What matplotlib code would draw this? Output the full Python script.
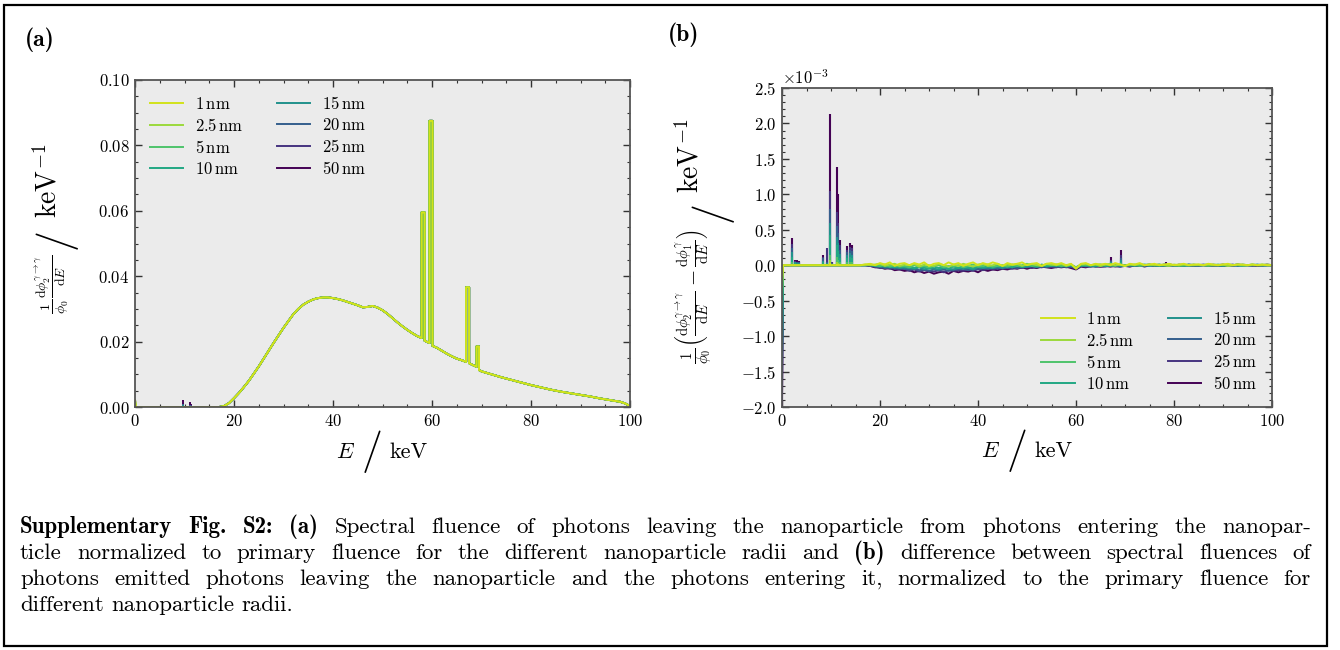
import numpy as np
import matplotlib
matplotlib.use('Agg')
import matplotlib.pyplot as plt
from matplotlib.patches import Rectangle
from matplotlib.ticker import MultipleLocator

plt.rcParams['font.family'] = 'serif'
plt.rcParams['font.serif'] = ['cmr10']
plt.rcParams['mathtext.fontset'] = 'cm'
plt.rcParams['axes.formatter.use_mathtext'] = True
plt.rcParams['axes.unicode_minus'] = True

# radii, legend labels and colour positions on viridis
radii = ['1', '2.5', '5', '10', '15', '20', '25', '50']
cmap_pos = [0.93, 0.85, 0.72, 0.60, 0.50, 0.30, 0.15, 0.0]

# (a) spectrum of photons (phi / phi0 per keV), above 16 keV, same for all radii
E_a = [16, 17, 18, 19, 20, 21, 22, 23, 24, 25, 26, 27, 28, 29, 30, 31, 32, 33, 34, 35,
       36, 37, 38, 39, 40, 41, 42, 43, 44, 45, 46, 47, 48, 49, 50, 51, 52, 53, 54, 55,
       56, 57, 57.9, 57.9, 58.5, 58.5, 59, 59.5, 59.5, 60.1, 60.1, 61, 62, 63, 64, 65,
       66, 66.9, 66.9, 67.5, 67.5, 68, 69.0, 69.0, 69.5, 69.5, 70, 72, 74, 76, 78, 80,
       82, 84, 86, 88, 90, 92, 94, 96, 98, 99, 100]
spec_a = [0.0000, 0.0000, 0.0003, 0.0012, 0.0027, 0.0043, 0.0061, 0.0080, 0.0102, 0.0124,
          0.0148, 0.0172, 0.0196, 0.0219, 0.0242, 0.0263, 0.0284, 0.0300, 0.0313, 0.0322,
          0.0329, 0.0333, 0.0335, 0.0335, 0.0333, 0.0330, 0.0326, 0.0321, 0.0316, 0.0311,
          0.0305, 0.0306, 0.0309, 0.0304, 0.0296, 0.0285, 0.0272, 0.0259, 0.0247, 0.0236,
          0.0226, 0.0217, 0.0211, 0.0595, 0.0595, 0.0203, 0.0199, 0.0196, 0.0875, 0.0875,
          0.0187, 0.0181, 0.0172, 0.0163, 0.0155, 0.0148, 0.0143, 0.0138, 0.0366, 0.0366,
          0.0134, 0.0130, 0.0123, 0.0185, 0.0185, 0.0113, 0.0109, 0.0100, 0.0091, 0.0083,
          0.0075, 0.0067, 0.0060, 0.0053, 0.0047, 0.0042, 0.0037, 0.0032, 0.0026, 0.0021,
          0.0016, 0.0011, 0.0003]
spec_a_first = 0.0023   # first energy bin of the entering spectrum

# (b) difference, in units of 1e-3 / keV
first_bin = [-0.2, -0.35, -0.55, -1.2, -1.35, -1.6, -1.9, -2.1]

line_E = [2.0, 2.6, 3.0, 3.5, 8.3, 9.1, 9.7, 10.3, 11.2, 11.4, 11.9, 13.3, 13.8, 14.3,
          67.1, 69.2, 78.4]
line_h = [
    [0.01, 0.0, 0.0, 0.0, 0.0, 0.0, 0.03, 0.0, 0.02, 0.01, 0.01, 0.01, 0.01, 0.01, 0.0, 0.0, 0.0],
    [0.02, 0.0, 0.0, 0.0, 0.01, 0.0, 0.07, 0.0, 0.05, 0.03, 0.02, 0.02, 0.02, 0.02, 0.0, 0.01, 0.0],
    [0.05, 0.01, 0.01, 0.01, 0.02, 0.01, 0.15, 0.01, 0.12, 0.08, 0.04, 0.04, 0.05, 0.04, 0.01, 0.02, 0.0],
    [0.12, 0.03, 0.02, 0.02, 0.04, 0.02, 0.42, 0.01, 0.28, 0.20, 0.10, 0.10, 0.12, 0.10, 0.03, 0.05, 0.01],
    [0.18, 0.04, 0.03, 0.03, 0.06, 0.03, 0.60, 0.02, 0.40, 0.32, 0.16, 0.14, 0.17, 0.15, 0.04, 0.07, 0.01],
    [0.25, 0.05, 0.04, 0.04, 0.10, 0.05, 0.80, 0.03, 0.55, 0.45, 0.22, 0.18, 0.22, 0.20, 0.06, 0.10, 0.02],
    [0.30, 0.06, 0.05, 0.05, 0.12, 0.24, 1.05, 0.04, 0.75, 0.60, 0.28, 0.22, 0.26, 0.24, 0.08, 0.14, 0.03],
    [0.38, 0.08, 0.07, 0.06, 0.15, 0.05, 2.13, 0.05, 1.38, 1.00, 0.35, 0.27, 0.31, 0.29, 0.12, 0.22, 0.04],
]

E_b = list(range(16, 101))
diff_b = [
    # 1 nm
    [0.00, 0.01, 0.02, 0.00, 0.03, 0.01, 0.04, -0.01, 0.02, 0.03,
     0.00, 0.03, 0.01, 0.04, -0.01, 0.02, 0.03, 0.00, 0.04, 0.01,
     0.03, -0.01, 0.02, 0.04, 0.00, 0.03, 0.01, 0.04, 0.02, -0.01,
     0.03, 0.01, 0.02, 0.04, 0.00, 0.02, 0.03, -0.01, 0.02, 0.03,
     0.01, 0.03, 0.00, 0.02, -0.05, 0.02, 0.03, 0.00, 0.02, 0.01,
     0.02, 0.00, 0.03, 0.01, -0.01, 0.02, 0.01, 0.03, 0.00, 0.01,
     0.02, 0.00, 0.01, 0.02, 0.00, 0.01, 0.02, 0.00, 0.01, 0.01,
     0.00, 0.02, 0.01, 0.00, 0.01, 0.02, 0.00, 0.01, 0.01, 0.00,
     0.01, 0.00, 0.01, 0.00, 0.00],
    # 2.5 nm
    [0.00, 0.01, 0.00, 0.01, 0.02, -0.01, 0.01, 0.02, -0.01, 0.01,
     0.00, 0.02, -0.02, 0.01, 0.00, -0.01, 0.02, 0.00, -0.02, 0.01,
     -0.01, 0.02, 0.00, -0.02, 0.01, 0.02, -0.01, 0.00, 0.02, -0.01,
     0.01, 0.00, 0.02, -0.01, 0.01, 0.02, 0.00, -0.01, 0.02, 0.01,
     0.00, 0.02, -0.01, 0.01, -0.04, 0.01, 0.02, 0.00, 0.01, -0.01,
     0.01, 0.02, 0.00, 0.01, -0.01, 0.01, 0.00, 0.02, 0.00, 0.01,
     0.00, 0.01, 0.00, -0.01, 0.01, 0.00, 0.01, 0.00, 0.00, 0.01,
     0.00, 0.01, 0.00, 0.00, 0.01, -0.01, 0.00, 0.01, 0.00, 0.00,
     0.01, 0.00, 0.00, 0.01, 0.00],
    # 5 nm
    [0.00, 0.00, 0.01, 0.00, -0.01, 0.01, -0.02, 0.00, -0.02, -0.01,
     -0.03, 0.00, -0.02, -0.01, -0.03, -0.01, 0.00, -0.03, -0.01, -0.02,
     0.00, -0.03, -0.01, 0.01, -0.02, -0.01, 0.01, -0.02, -0.01, 0.00,
     -0.02, 0.01, -0.01, 0.00, 0.02, -0.01, 0.00, -0.01, 0.01, 0.00,
     0.01, -0.01, 0.00, 0.01, -0.03, 0.01, 0.00, 0.00, 0.01, -0.01,
     0.01, 0.00, -0.01, 0.01, 0.00, 0.00, 0.01, -0.01, 0.00, 0.01,
     0.00, 0.00, 0.01, 0.00, 0.00, -0.01, 0.00, 0.01, 0.00, 0.00,
     0.00, -0.01, 0.00, 0.01, 0.00, 0.00, 0.00, 0.01, 0.00, 0.00,
     0.00, 0.00, 0.01, 0.00, 0.00],
    # 10 nm
    [0.00, 0.00, 0.01, -0.01, 0.00, -0.02, -0.01, -0.03, -0.01, -0.03,
     -0.02, -0.04, -0.02, -0.03, -0.05, -0.02, -0.04, -0.03, -0.05, -0.02,
     -0.04, -0.02, -0.03, -0.04, -0.01, -0.03, -0.02, -0.03, 0.00, -0.02,
     -0.01, -0.03, 0.00, -0.02, 0.00, -0.01, -0.02, 0.01, -0.01, 0.00,
     -0.01, 0.01, -0.02, 0.00, -0.03, 0.00, 0.01, -0.01, 0.00, 0.01,
     -0.01, 0.00, 0.01, 0.00, -0.01, 0.01, 0.00, 0.00, 0.01, 0.00,
     0.00, -0.01, 0.00, 0.01, 0.00, 0.00, -0.01, 0.00, 0.01, 0.00,
     0.00, 0.01, 0.00, 0.00, 0.00, 0.01, 0.00, 0.00, -0.01, 0.00,
     0.01, 0.00, 0.00, 0.00, 0.00],
    # 15 nm
    [0.00, 0.00, 0.00, -0.01, -0.02, -0.01, -0.03, -0.02, -0.04, -0.03,
     -0.04, -0.05, -0.03, -0.06, -0.04, -0.05, -0.06, -0.04, -0.05, -0.06,
     -0.04, -0.05, -0.04, -0.06, -0.03, -0.04, -0.03, -0.04, -0.02, -0.04,
     -0.02, -0.03, -0.01, -0.03, -0.02, -0.01, -0.02, 0.00, -0.02, -0.01,
     0.00, -0.02, -0.01, 0.00, -0.04, -0.01, -0.01, 0.00, -0.02, 0.00,
     0.00, -0.01, 0.01, -0.01, 0.00, 0.00, -0.01, 0.01, 0.00, -0.01,
     0.00, 0.01, -0.01, 0.00, 0.00, 0.00, 0.01, -0.01, 0.00, 0.00,
     0.00, 0.00, 0.01, 0.00, -0.01, 0.00, 0.00, 0.00, 0.01, 0.00,
     0.00, 0.01, 0.00, 0.00, 0.00],
    # 20 nm
    [0.00, 0.00, 0.00, -0.02, -0.02, -0.04, -0.03, -0.05, -0.04, -0.05,
     -0.06, -0.05, -0.07, -0.06, -0.08, -0.06, -0.07, -0.06, -0.08, -0.06,
     -0.06, -0.05, -0.07, -0.05, -0.06, -0.04, -0.05, -0.03, -0.05, -0.03,
     -0.04, -0.02, -0.04, -0.02, -0.03, -0.01, -0.03, -0.02, -0.02, -0.01,
     -0.02, -0.02, 0.00, -0.02, -0.04, -0.01, 0.00, -0.02, -0.01, 0.00,
     -0.01, -0.01, 0.00, -0.02, 0.00, -0.01, 0.00, -0.01, 0.00, 0.01,
     -0.01, 0.00, 0.00, 0.00, -0.01, 0.01, 0.00, 0.00, -0.01, 0.00,
     0.01, 0.00, 0.00, -0.01, 0.00, 0.00, 0.01, -0.01, 0.00, 0.00,
     0.00, 0.00, -0.01, 0.00, 0.00],
    # 25 nm
    [0.00, 0.00, -0.01, -0.02, -0.04, -0.03, -0.05, -0.04, -0.06, -0.05,
     -0.08, -0.06, -0.09, -0.07, -0.08, -0.09, -0.07, -0.10, -0.07, -0.08,
     -0.07, -0.08, -0.06, -0.08, -0.05, -0.07, -0.05, -0.06, -0.04, -0.05,
     -0.04, -0.05, -0.03, -0.04, -0.02, -0.04, -0.02, -0.03, -0.01, -0.03,
     -0.03, -0.01, -0.03, -0.02, -0.05, -0.01, -0.02, -0.02, 0.00, -0.02,
     -0.02, 0.00, -0.02, -0.01, 0.00, -0.01, -0.01, 0.00, -0.02, 0.00,
     0.00, -0.01, 0.01, -0.01, 0.00, 0.00, -0.01, 0.01, 0.00, -0.01,
     0.00, 0.00, -0.01, 0.00, 0.01, 0.00, -0.01, 0.00, 0.00, 0.00,
     -0.01, 0.00, 0.00, 0.01, 0.00],
    # 50 nm
    [0.00, 0.00, -0.01, -0.03, -0.03, -0.05, -0.04, -0.07, -0.06, -0.08,
     -0.07, -0.10, -0.08, -0.11, -0.09, -0.12, -0.10, -0.09, -0.12, -0.08,
     -0.10, -0.08, -0.09, -0.07, -0.10, -0.06, -0.08, -0.06, -0.07, -0.05,
     -0.06, -0.04, -0.05, -0.03, -0.05, -0.03, -0.04, -0.02, -0.03, -0.04,
     -0.02, -0.03, -0.02, -0.04, -0.06, -0.02, -0.03, -0.01, -0.02, -0.02,
     -0.01, -0.02, -0.01, -0.02, -0.01, -0.02, 0.00, -0.01, -0.01, 0.00,
     -0.01, 0.00, -0.01, 0.01, 0.00, -0.01, 0.00, 0.00, -0.01, 0.00,
     0.00, -0.01, 0.00, 0.00, -0.01, 0.00, 0.00, 0.01, 0.00, 0.00,
     0.00, -0.01, 0.00, 0.00, 0.00],
]

caption_lines = [
    'Supplementary Fig. S2: (a) Spectral fluence of photons leaving the nanoparticle from photons entering the nanopar-',
    'ticle normalized to primary fluence for the different nanoparticle radii and (b) difference between spectral fluences of',
    'photons emitted photons leaving the nanoparticle and the photons entering it, normalized to the primary fluence for',
    'different nanoparticle radii.',
]
bold_words = {'Supplementary', 'Fig.', 'S2:', '(a)', '(b)'}

W, H = 1340, 650
fig = plt.figure(figsize=(W / 100, H / 100), dpi=100)
ax_a = fig.add_axes([135 / W, 1 - 407 / H, 495 / W, 327 / H])
ax_b = fig.add_axes([782 / W, 1 - 407 / H, 490 / W, 319 / H])

colors = [plt.cm.viridis(p) for p in cmap_pos]
labels = [r + r'$\,$nm' for r in radii]

handles = [None] * 8
for i in reversed(range(8)):
    c = colors[i]
    # panel a
    xa = [0.0, 0.2] + E_a
    ya = [spec_a_first + first_bin[i] * 1e-3, 0.0] + spec_a
    handles[i], = ax_a.plot(xa, ya, color=c, lw=1.4, label=labels[i])
    low = [k for k, e in enumerate(line_E) if e < 16]
    ax_a.vlines([line_E[k] for k in low], 0, [line_h[i][k] * 1e-3 for k in low],
                color=c, lw=1.4)
    # panel b
    xb = [0.0, 0.2] + E_b
    yb = [first_bin[i] * 1e-3, 0.0] + [v * 1e-3 for v in diff_b[i]]
    ax_b.plot(xb, yb, color=c, lw=1.4)
    ax_b.vlines(line_E, 0, [h * 1e-3 for h in line_h[i]], color=c, lw=1.5)

for ax in (ax_a, ax_b):
    ax.set_facecolor('#ebebeb')
    ax.set_xlim(0, 100)
    ax.xaxis.set_major_locator(MultipleLocator(20))
    ax.xaxis.set_minor_locator(MultipleLocator(5))
    ax.tick_params(which='both', direction='in', top=True, right=True,
                   labelsize=12, color='#333333', pad=4)
    ax.tick_params(which='major', length=5, width=1)
    ax.tick_params(which='minor', length=2.5, width=0.8)
    for s in ax.spines.values():
        s.set_color('#555555')
        s.set_linewidth(1.3)
    # x label "E / keV" with a tall slash
    ax.text(0.444, -0.138, '$E$', transform=ax.transAxes, ha='right', va='center', fontsize=16)
    ax.text(0.479, -0.138, '/', transform=ax.transAxes, ha='center', va='center', fontsize=30)
    ax.text(0.515, -0.138, 'keV', transform=ax.transAxes, ha='left', va='center', fontsize=16)

ax_a.set_ylim(0, 0.10)
ax_a.yaxis.set_major_locator(MultipleLocator(0.02))
ax_a.yaxis.set_minor_locator(MultipleLocator(0.005))

ax_b.set_ylim(-2.0e-3, 2.5e-3)
ax_b.yaxis.set_major_locator(MultipleLocator(0.5e-3))
ax_b.yaxis.set_minor_locator(MultipleLocator(0.1e-3))
ax_b.ticklabel_format(axis='y', style='sci', scilimits=(-3, -3), useMathText=True)
ax_b.yaxis.get_offset_text().set_fontsize(12)

# y labels: quantity, tall slash, unit (rotated pieces)
ylab = {
    ax_a: (r'$\frac{1}{\phi_0}\frac{\mathrm{d}\phi_2^{\gamma\to\gamma}}{\mathrm{d}E}$', 14,
           (-0.166, 0.465), (-0.160, 0.514), (-0.176, 0.578)),
    ax_b: (r'$\frac{1}{\phi_0}\left(\frac{\mathrm{d}\phi_2^{\gamma\to\gamma}}{\mathrm{d}E}'
           r'-\frac{\mathrm{d}\phi_1^{\gamma}}{\mathrm{d}E}\right)$', 15,
           (-0.178, 0.555), (-0.145, 0.614), (-0.188, 0.671)),
}
for ax, (q, qsize, pq, ps, pu) in ylab.items():
    ax.text(*pq, q, transform=ax.transAxes, rotation=90, ha='center', va='top', fontsize=qsize)
    ax.text(*ps, '/', transform=ax.transAxes, rotation=90, ha='center', va='center',
            fontsize=30)
    ax.text(*pu, r'$\mathrm{keV}^{-1}$', transform=ax.transAxes, rotation=90, ha='center',
            va='bottom', fontsize=20)

leg_kw = dict(ncol=2, frameon=False, fontsize=12, handlelength=2.0, labelspacing=0.3,
              columnspacing=2.0, handletextpad=0.7)
ax_a.legend(handles=handles, loc='upper left', bbox_to_anchor=(0.0, 1.0), **leg_kw)
ax_b.legend(handles=handles, loc='lower right', bbox_to_anchor=(1.0, 0.0), **leg_kw)

fig.text(25 / W, 1 - 40 / H, '(a)', family='cmb10', fontsize=17, va='center')
fig.text(668 / W, 1 - 35 / H, '(b)', family='cmb10', fontsize=17, va='center')

# page frame
fig.patches.append(Rectangle((4 / W, 4 / H), 1323 / W, 641 / H, transform=fig.transFigure,
                             fill=False, ec='black', lw=1.6))

# justified caption, word by word
renderer = fig.canvas.get_renderer()
cap_left, cap_right = 20, 1311
cap_base = [533, 559, 585, 611]
cap_size = 16.5
for k, line in enumerate(caption_lines):
    words = line.split(' ')
    items = [fig.text(0, 0, w, family='cmb10' if w in bold_words else 'cmr10',
                      fontsize=cap_size, va='baseline') for w in words]
    widths = [t.get_window_extent(renderer).width for t in items]
    if k < len(caption_lines) - 1:
        gap = (cap_right - cap_left - sum(widths)) / (len(words) - 1)
    else:
        gap = 7.5
    x = cap_left
    for t, w in zip(items, widths):
        t.set_position((x / W, 1 - cap_base[k] / H))
        x += w + gap

fig.savefig('out.png', dpi=100)
